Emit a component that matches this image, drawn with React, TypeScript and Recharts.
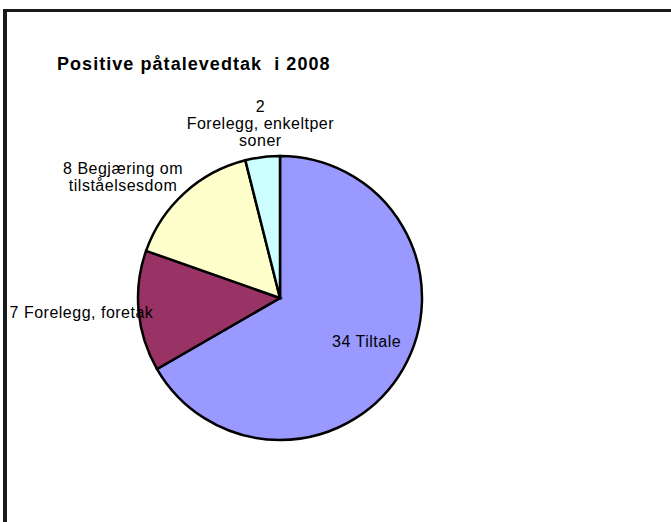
import React from 'react';
import { PieChart, Pie, Cell } from 'recharts';

const title = 'Positive påtalevedtak  i 2008';
const categories = ['Tiltale', 'Forelegg, foretak', 'Begjæring om tilståelsesdom', 'Forelegg, enkeltperson'];
const values = [34, 7, 8, 2];
// label text as it wraps in the original
const labelLines = [
  ['34 Tiltale'],
  ['7 Forelegg, foretak'],
  ['8 Begjæring om', 'tilståelsesdom'],
  ['2', 'Forelegg, enkeltper', 'soner'],
];

const colors = ['#9999FF', '#993366', '#FFFFCC', '#CCFFFF'];
// radial factor (of outer radius) and nudge per label
const labelPlace = [
  { f: 0.68, dx: 3, dy: -5 },
  { f: 1.39, dx: -2, dy: -4 },
  { f: 1.39, dx: -24, dy: 24 },
  { f: 1.24, dx: 2, dy: 0 },
];

const data = categories.map((name, i) => ({ name, value: values[i] }));

const RADIAN = Math.PI / 180;

const renderLabel = (props: any) => {
  const { cx, cy, midAngle, outerRadius, index } = props;
  const p = labelPlace[index];
  const r = outerRadius * p.f;
  const x = cx + r * Math.cos(-midAngle * RADIAN) + p.dx;
  const y = cy + r * Math.sin(-midAngle * RADIAN) + p.dy;
  const lines = labelLines[index];
  const lh = 17;
  const y0 = y - ((lines.length - 1) * lh) / 2;
  return (
    <text
      x={x}
      y={y0}
      textAnchor="middle"
      dominantBaseline="central"
      fontFamily="'Liberation Sans', Arial, sans-serif"
      fontSize={16}
      letterSpacing={0.5}
      fill="#000"
    >
      {lines.map((t, k) => (
        <tspan key={k} x={x} y={y0 + k * lh}>
          {t}
        </tspan>
      ))}
    </text>
  );
};

export default function App() {
  return (
    <div
      style={{
        position: 'absolute',
        left: 0,
        top: 0,
        width: 671,
        height: 522,
        overflow: 'hidden',
        background: '#fff',
      }}
    >
      <div
        style={{
          position: 'absolute',
          left: 57,
          top: 55,
          fontFamily: "'Liberation Sans', Arial, sans-serif",
          fontWeight: 'bold',
          fontSize: 18,
          lineHeight: 1,
          letterSpacing: 1.05,
          whiteSpace: 'pre',
          color: '#000',
        }}
      >
        {title}
      </div>
      <div style={{ position: 'absolute', left: 0, top: 0 }}>
        <PieChart width={671} height={522} margin={{ top: 0, right: 0, bottom: 0, left: 0 }}>
          <Pie
            data={data}
            dataKey="value"
            nameKey="name"
            cx={280}
            cy={298}
            outerRadius={142}
            startAngle={90}
            endAngle={-270}
            stroke="#000"
            strokeWidth={2.5}
            label={renderLabel}
            labelLine={false}
            isAnimationActive={false}
          >
            {data.map((d, i) => (
              <Cell key={d.name} fill={colors[i]} stroke="#000" strokeWidth={2.5} />
            ))}
          </Pie>
        </PieChart>
      </div>
      <svg
        width={671}
        height={522}
        style={{ position: 'absolute', left: 0, top: 0, pointerEvents: 'none' }}
      >
        <rect x={3} y={9} width={4} height={513} fill="#1a1a1a" />
        <rect x={3} y={9} width={668} height={3} fill="#1a1a1a" />
      </svg>
    </div>
  );
}
